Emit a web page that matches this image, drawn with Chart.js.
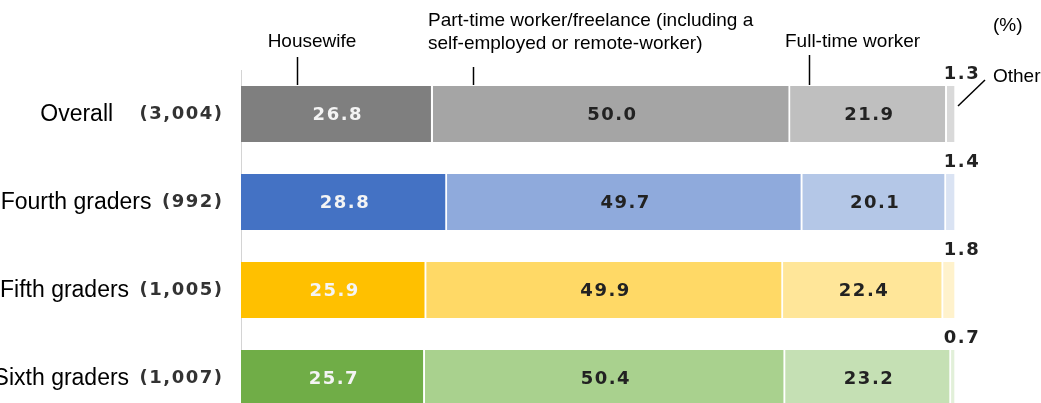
<!DOCTYPE html>
<html>
<head>
<meta charset="utf-8">
<script src="https://cdn.jsdelivr.net/npm/chart.js@4.4.0/dist/chart.umd.min.js"></script>
<style>
html,body{margin:0;padding:0;background:#fff;overflow:hidden;width:1041px;height:403px;}
#wrap{width:1041px;height:403px;overflow:hidden;}
canvas{display:block;}
</style>
</head>
<body>
<div id="wrap"><canvas id="c" width="1041" height="425"></canvas></div>
<script>
// ---- data ----
const categories = ['Overall', 'Fourth graders', 'Fifth graders', 'Sixth graders'];
const counts = ['(3,004)', '(992)', '(1,005)', '(1,007)'];
const seriesNames = ['Housewife', 'Part-time worker/freelance (including a self-employed or remote-worker)', 'Full-time worker', 'Other'];
const housewife = [26.8, 28.8, 25.9, 25.7];
const partTime = [50.0, 49.7, 49.9, 50.4];
const fullTime = [21.9, 20.1, 22.4, 23.2];
const other = [1.3, 1.4, 1.8, 0.7];

// ---- palettes (per row) ----
const housewifeColors = ['#7f7f7f', '#4472c4', '#ffc000', '#70ad47'];
const partTimeColors  = ['#a5a5a5', '#8faadc', '#ffd966', '#a9d18e'];
const fullTimeColors  = ['#bfbfbf', '#b4c7e7', '#ffe699', '#c5e0b4'];
const otherColors     = ['#d9d9d9', '#dae3f3', '#fff2cc', '#e2f0d9'];

const valueFont = 'bold 18px "DejaVu Sans"';
const countFont = 'bold 18px "DejaVu Sans"';
const nameFont = '23px "Liberation Sans", Arial, sans-serif';
const annoFont = '19px "Liberation Sans", Arial, sans-serif';

const labelsPlugin = {
  id: 'labelsPlugin',
  afterDatasetsDraw(chart) {
    const ctx = chart.ctx;
    const xs = chart.scales.x;
    ctx.save();
    ctx.font = valueFont;
    ctx.letterSpacing = '1.5px';
    ctx.textBaseline = 'middle';
    ctx.textAlign = 'center';
    chart.data.datasets.forEach((ds, di) => {
      const meta = chart.getDatasetMeta(di);
      meta.data.forEach((el, i) => {
        const v = ds.data[i];
        const txt = v.toFixed(1);
        if (di < 3) {
          ctx.fillStyle = di === 0 ? '#f4f4f4' : '#222222';
          ctx.fillText(txt, (el.x + el.base) / 2 + 1, el.y + 1);
        } else {
          ctx.fillStyle = '#222222';
          ctx.fillText(txt, xs.getPixelForValue(100) + 6, el.y - el.height / 2 - 12);
        }
      });
    });
    ctx.restore();
  },
  afterDraw(chart) {
    const ctx = chart.ctx;
    const xs = chart.scales.x;
    const ys = chart.scales.y;
    ctx.save();
    // category names and counts
    categories.forEach((name, i) => {
      const y = ys.getPixelForValue(i);
      ctx.font = countFont;
      ctx.letterSpacing = '1.5px';
      ctx.textBaseline = 'middle';
      ctx.textAlign = 'right';
      ctx.fillStyle = '#333333';
      ctx.fillText(counts[i], 223.5, y);
      const cw = ctx.measureText(counts[i]).width;
      ctx.font = nameFont;
      ctx.letterSpacing = '0px';
      ctx.fillStyle = '#000000';
      const gap = i === 0 ? 25 : 9;
      ctx.fillText(name, 222 - cw - gap, y + 1);
    });

    // annotations
    ctx.font = annoFont;
    ctx.letterSpacing = '0px';
    ctx.fillStyle = '#000000';
    ctx.textBaseline = 'alphabetic';
    ctx.textAlign = 'center';
    ctx.fillText(seriesNames[0], 312, 47);
    ctx.textAlign = 'left';
    ctx.fillText('Part-time worker/freelance (including a', 428, 26);
    ctx.fillText('self-employed or remote-worker)', 428, 49);
    ctx.fillText(seriesNames[2], 785, 47);
    ctx.fillText('(%)', 993, 31);
    ctx.fillText(seriesNames[3], 993, 82);

    ctx.strokeStyle = '#000000';
    ctx.lineWidth = 1.5;
    const topBar = ys.getPixelForValue(0) - 28;
    const lines = [[7.8, 57], [32.5, 67], [79.4, 55]];
    lines.forEach(([v, y0]) => {
      const x = Math.round(xs.getPixelForValue(v)) + 0.5;
      ctx.beginPath();
      ctx.moveTo(x, y0);
      ctx.lineTo(x, topBar - 1);
      ctx.stroke();
    });
    // Other leader
    const ex = xs.getPixelForValue(100);
    ctx.beginPath();
    ctx.moveTo(ex + 2, ys.getPixelForValue(0) - 8);
    ctx.lineTo(ex + 29, 80);
    ctx.stroke();
    ctx.restore();
  }
};

const common = { barThickness: 56, borderColor: '#ffffff', borderWidth: { right: 2, left: 0, top: 0, bottom: 0 }, borderSkipped: false };

new Chart(document.getElementById('c'), {
  type: 'bar',
  data: {
    labels: categories,
    datasets: [
      Object.assign({ label: seriesNames[0], data: housewife, backgroundColor: housewifeColors }, common),
      Object.assign({ label: seriesNames[1], data: partTime, backgroundColor: partTimeColors }, common),
      Object.assign({ label: seriesNames[2], data: fullTime, backgroundColor: fullTimeColors }, common),
      Object.assign({ label: seriesNames[3], data: other, backgroundColor: otherColors }, common)
    ]
  },
  options: {
    indexAxis: 'y',
    responsive: false,
    animation: false,
    devicePixelRatio: 1,
    layout: { padding: { top: 70, bottom: 3, left: 0, right: 85 } },
    plugins: { legend: { display: false }, tooltip: { enabled: false } },
    scales: {
      x: { stacked: true, min: 0, max: 100, display: false },
      y: {
        stacked: true,
        ticks: { display: false },
        grid: { display: false },
        border: { display: true, color: '#d4d4d4', width: 1 },
        afterFit(s) { s.width = 241; }
      }
    }
  },
  plugins: [labelsPlugin]
});
</script>
</body>
</html>
